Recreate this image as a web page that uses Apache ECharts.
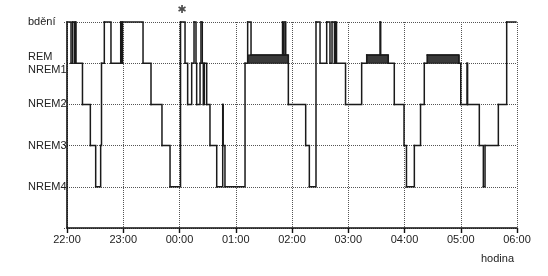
<!DOCTYPE html>
<html><head><meta charset="utf-8">
<script src="https://cdn.jsdelivr.net/npm/echarts@6/dist/echarts.min.js"></script>
<style>html,body{margin:0;padding:0;background:#fff}#c{width:548px;height:276px}</style>
</head><body><div id="c"></div><script>
// hour tick labels (x axis is minutes after 22:00)
const hourLabels = ['22:00','23:00','00:00','01:00','02:00','03:00','04:00','05:00','06:00'];
// stage labels for y values 0..5
const stageLabels = ['', 'NREM4', 'NREM3', 'NREM2', 'REM\nNREM1', 'bdění'];
// stage codes: 5 = bdění, 4.2 = REM, 4 = NREM1, 3 = NREM2, 2 = NREM3, 1 = NREM4
const W = 5, R = 4.2, N1 = 4, N2 = 3, N3 = 2, N4 = 1;
// transition times (minutes after 22:00)
const times = [0,4.3,6.0,8.0,8.9,9.6,16.5,24.9,30.6,35.9,36.8,39.8,46.9,57.3,58.1,59.2,81.1,89.6,101.3,109.9,
  121.1,125.9,128.7,133.0,135.5,137.6,138.3,141.9,142.9,144.3,145.4,146.5,149.0,152.5,159.7,166.1,166.6,168.5,
  189.9,192.7,196.3,229.9,230.9,232.5,233.3,236.1,254.6,258.5,265.6,269.9,277.0,280.5,282.7,285.3,286.2,287.5,
  297.1,314.3,319.7,333.9,334.6,342.7,349.1,359.5,362.1,370.5,377.1,381.1,384.3,418.1,420.0,426.7,427.3,439.8,
  444.1,445.9,460.1,469.0,478.9];
// stage entered at each transition time
const stages = [W,N1,W,N1,W,N1,N2,N3,N4,N3,N1,W,N1,W,N1,W,N1,N2,N3,N4,
  W,N1,N2,N1,W,N1,N2,N1,W,N1,N2,N1,N2,N3,N4,N2,N3,N4,
  N1,W,R,W,R,W,R,N2,N3,N4,W,N1,W,N1,W,N1,W,N1,
  N2,N1,R,W,R,N1,N2,N3,N4,N3,N2,N1,R,N1,N2,N1,N2,N3,
  N4,N3,N2,W,W];
// REM periods (filled bars)
const remStart = [192.7, 319.7, 384.3];
const remEnd = [236.1, 342.7, 418.1];
// asterisk annotation
const asteriskAt = [122.5, 5];

// each step: [start time, stage, next time, next stage]
const steps = [];
for (let i = 0; i < times.length - 1; i++) steps.push([times[i], stages[i], times[i + 1], stages[i + 1]]);
const remData = remStart.map((s, i) => [s, remEnd[i]]);

const chart = echarts.init(document.getElementById('c'));
const font = 'Liberation Sans, Arial, sans-serif';
chart.setOption({
  animation: false,
  backgroundColor: '#fff',
  grid: {left: 67, right: 31, top: 22, bottom: 48},
  xAxis: {
    type: 'value', min: 0, max: 480, interval: 60,
    name: 'hodina', nameLocation: 'end', nameGap: -3,
    nameTextStyle: {fontFamily: font, fontSize: 11, color: '#222', align: 'right', verticalAlign: 'top', padding: [25, 0, 0, 0]},
    axisLine: {show: true, onZero: false, lineStyle: {color: '#111', width: 1.6}},
    axisTick: {show: true, length: 5, lineStyle: {color: '#111', width: 1.4}},
    axisLabel: {fontFamily: font, fontSize: 11, color: '#222', margin: 6,
      formatter: v => hourLabels[Math.round(v / 60)]},
    splitLine: {show: true, lineStyle: {type: 'dotted', color: '#555', width: 1}}
  },
  yAxis: {
    type: 'value', min: 0, max: 5, interval: 1,
    axisLine: {show: true, lineStyle: {color: '#111', width: 1.6}},
    axisTick: {show: true, length: 4, lineStyle: {color: '#555', type: 'dotted'}},
    axisLabel: {fontFamily: font, fontSize: 11, color: '#222', align: 'left', margin: 39, lineHeight: 13,
      padding: [3, 0, 0, 0], formatter: v => stageLabels[v]},
    splitLine: {show: true, lineStyle: {type: 'dotted', color: '#555', width: 1}}
  },
  series: [
    {
      type: 'custom', data: remData, encode: {x: [0, 1]}, z: 2,
      renderItem: (params, api) => {
        const a = api.coord([api.value(0), R]);
        const b = api.coord([api.value(1), N1]);
        return {type: 'rect', shape: {x: a[0], y: a[1], width: b[0] - a[0], height: b[1] - a[1]},
          style: {fill: '#3a3a3a', stroke: '#1a1a1a', lineWidth: 1}};
      }
    },
    {
      type: 'custom', data: steps, encode: {x: [0, 2], y: [1, 3]}, z: 3,
      renderItem: (params, api) => {
        const p0 = api.coord([api.value(0), api.value(1)]);
        const p1 = api.coord([api.value(2), api.value(1)]);
        const p2 = api.coord([api.value(2), api.value(3)]);
        return {type: 'polyline', shape: {points: [p0, p1, p2]},
          style: {stroke: '#1a1a1a', lineWidth: 1.5, fill: null, lineJoin: 'miter', lineCap: 'square'}};
      }
    },
    {
      type: 'scatter', data: [asteriskAt], symbolSize: 0, clip: false,
      label: {show: true, position: 'top', distance: 6, formatter: '✱', fontSize: 11, color: '#222', fontFamily: 'DejaVu Sans'}
    }
  ]
});
</script></body></html>
